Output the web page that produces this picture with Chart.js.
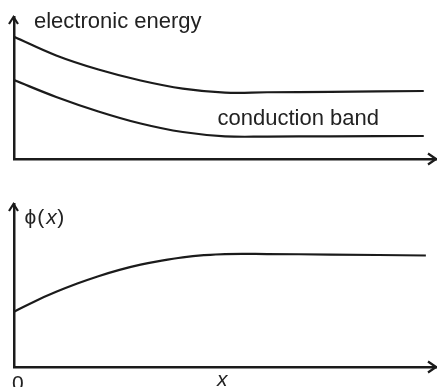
<!DOCTYPE html>
<html>
<head>
<meta charset="utf-8">
<script src="https://cdn.jsdelivr.net/npm/chart.js@4.4.1/dist/chart.umd.min.js"></script>
<style>
  html, body { margin: 0; padding: 0; background: #fff; }
  #wrap { position: relative; width: 437px; height: 387px; overflow: hidden; }
  canvas { position: absolute; left: 0; }
  #top { top: 0; }
  #bottom { top: 190px; }
</style>
</head>
<body>
<div id="wrap">
  <canvas id="top" width="437" height="190"></canvas>
  <canvas id="bottom" width="437" height="197"></canvas>
</div>
<script>
// ---- data (abstract units: x 0..100, y 0..100) ----
const xEnergy = [0, 10, 20, 30, 40, 50, 60, 75, 97.1];
const upperBand = [86.1, 72.9, 63.0, 55.3, 49.6, 46.8, 47.0, 47.3, 47.9];
const conductionBand = [55.6, 43.7, 33.5, 25.0, 19.0, 16.0, 15.8, 16.0, 16.2];

const xPhi = [0, 5, 10, 15, 20, 25, 30, 35, 40, 45, 50, 60, 75, 97.6];
const phi = [33.9, 40.4, 46.1, 51.2, 55.7, 59.6, 62.8, 65.3, 67.3, 68.6, 69.3, 69.3, 69.0, 68.4];

const topLabels = ["electronic energy", "conduction band"];
const bottomTickLabels = ["0", "x"];

const INK = "#1b1b1b";
const FONT = '"Liberation Sans", Arial, Helvetica, sans-serif';

function pts(xs, ys) { return xs.map((x, i) => ({ x: x, y: ys[i] })); }

function lineDs(data) {
  return {
    data: data,
    borderColor: INK,
    borderWidth: 2.2,
    pointRadius: 0,
    fill: false,
    tension: 0.4
  };
}

function axisScales() {
  const common = {
    type: 'linear', min: 0, max: 100,
    grid: { display: false, drawTicks: false },
    ticks: { display: false },
    border: { display: true, color: INK, width: 2.5 }
  };
  return { x: Object.assign({}, common), y: Object.assign({}, common) };
}

// arrowheads at the end of both axes
const arrowPlugin = {
  id: 'arrows',
  afterDraw(chart) {
    const { ctx, chartArea: a } = chart;
    const x0 = chart.scales.y.right - 0.5;
    const y0 = chart.scales.x.top;
    ctx.save();
    ctx.strokeStyle = INK;
    ctx.lineWidth = 2.2;
    ctx.lineJoin = 'miter';
    ctx.beginPath();
    ctx.moveTo(x0 - 4.5, a.top + 7);
    ctx.lineTo(x0, a.top);
    ctx.lineTo(x0 + 4.5, a.top + 7);
    ctx.stroke();
    ctx.beginPath();
    ctx.moveTo(a.right - 8, y0 - 5.5);
    ctx.lineTo(a.right, y0);
    ctx.lineTo(a.right - 8, y0 + 5.5);
    ctx.stroke();
    ctx.restore();
  }
};

const topTextPlugin = {
  id: 'topText',
  afterDraw(chart) {
    const ctx = chart.ctx;
    ctx.save();
    ctx.fillStyle = "#222";
    ctx.font = '22px ' + FONT;
    ctx.textBaseline = 'alphabetic';
    ctx.fillText(topLabels[0], 34, 28);
    ctx.fillText(topLabels[1], 217.5, 125);
    ctx.restore();
  }
};

const bottomTextPlugin = {
  id: 'bottomText',
  afterDraw(chart) {
    const ctx = chart.ctx;
    ctx.save();
    ctx.fillStyle = "#222";
    ctx.textBaseline = 'alphabetic';
    const base = 34;
    let x = 24.5;
    const normal = '21px ' + FONT;
    const italic = 'italic 21px ' + FONT;
    ctx.font = normal;
    ctx.fillText('\u03D5', x, base); x += ctx.measureText('\u03D5').width + 1;
    ctx.fillText('(', x, base); x += ctx.measureText('(').width + 2;
    ctx.font = italic;
    ctx.fillText('x', x, base); x += ctx.measureText('x').width + 0.5;
    ctx.font = normal;
    ctx.fillText(')', x, base);
    // axis labels below x axis
    ctx.font = normal;
    ctx.fillText(bottomTickLabels[0], 12, 200);
    ctx.font = italic;
    ctx.fillText(bottomTickLabels[1], 217, 195.5);
    ctx.restore();
  }
};

new Chart(document.getElementById('top'), {
  type: 'line',
  data: { datasets: [lineDs(pts(xEnergy, upperBand)), lineDs(pts(xEnergy, conductionBand))] },
  options: {
    responsive: false, animation: false,
    layout: { padding: { left: 14, right: 1, top: 17, bottom: 31 } },
    plugins: { legend: { display: false }, tooltip: { enabled: false } },
    scales: axisScales()
  },
  plugins: [arrowPlugin, topTextPlugin]
});

new Chart(document.getElementById('bottom'), {
  type: 'line',
  data: { datasets: [lineDs(pts(xPhi, phi))] },
  options: {
    responsive: false, animation: false,
    layout: { padding: { left: 14, right: 1, top: 14, bottom: 20 } },
    plugins: { legend: { display: false }, tooltip: { enabled: false } },
    scales: axisScales()
  },
  plugins: [arrowPlugin, bottomTextPlugin]
});
</script>
</body>
</html>
